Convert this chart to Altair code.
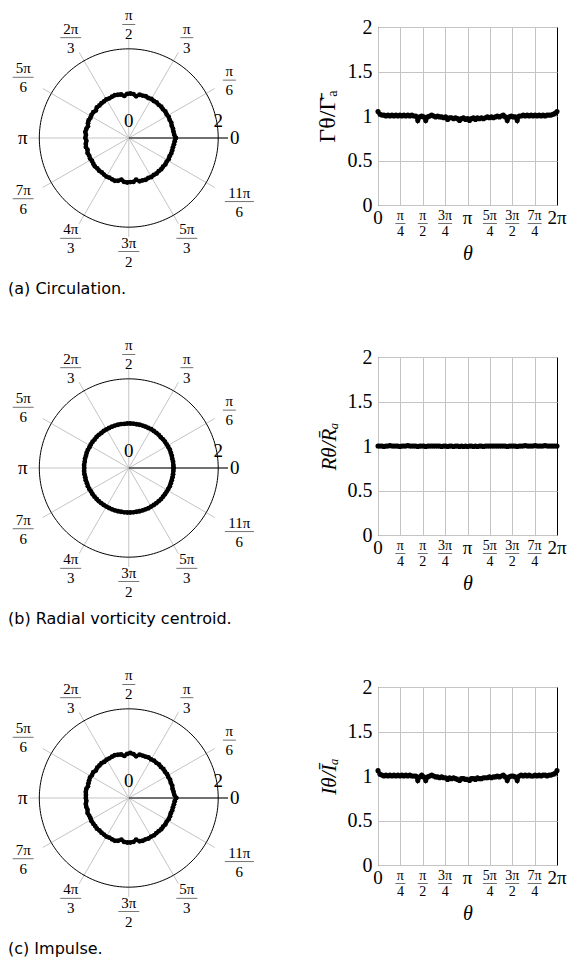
import altair as alt
import pandas as pd

# ---------------- data ----------------
deg = list(range(0, 361, 4))

gamma = [1.05, 1.02, 1.01, 1.01, 1.00, 1.01, 1.00, 1.01, 1.00, 1.01,
         1.00, 1.01, 1.00, 1.01, 1.00, 1.01, 1.00, 1.01, 1.00, 1.00,
         0.95, 0.99, 1.00, 0.99, 0.95, 0.99, 1.00, 1.01, 1.00, 0.99,
         1.00, 0.99, 0.99, 0.98, 0.99, 0.96, 0.98, 0.98, 0.97, 0.98,
         0.97, 0.95, 0.97, 0.98, 0.96, 0.97, 0.95, 0.97, 0.98, 0.96,
         0.98, 0.97, 0.98, 0.97, 0.98, 0.99, 0.98, 0.99, 0.98, 0.99,
         1.00, 0.99, 1.00, 1.01, 0.99, 0.95, 0.99, 1.00, 0.99, 0.99,
         0.95, 1.00, 1.00, 1.01, 1.00, 1.01, 1.00, 1.01, 1.00, 1.01,
         1.00, 1.01, 1.00, 1.01, 1.00, 1.01, 1.01, 1.01, 1.02, 1.03,
         1.05]

radial = [1.00, 1.00, 1.00, 0.995, 1.00, 1.00, 1.005, 1.00, 1.00, 1.00,
          1.00, 0.995, 1.00, 1.00, 1.00, 1.005, 1.00, 1.00, 1.00, 1.00,
          0.995, 1.00, 1.00, 1.00, 0.995, 1.00, 1.00, 1.00, 1.00, 1.00,
          1.00, 1.00, 0.995, 1.00, 1.00, 0.995, 1.00, 1.00, 0.995, 1.00,
          1.00, 0.995, 1.00, 0.995, 1.00, 0.995, 1.00, 1.00, 0.995, 1.00,
          0.995, 1.00, 1.00, 0.995, 1.00, 1.00, 1.00, 1.00, 1.00, 1.00,
          1.00, 1.00, 1.00, 1.00, 1.00, 0.995, 1.00, 1.00, 1.00, 1.00,
          0.995, 1.00, 1.00, 1.00, 1.005, 1.00, 1.00, 1.00, 1.00, 1.005,
          1.00, 1.00, 1.00, 1.00, 1.005, 1.00, 1.00, 1.00, 1.00, 1.00,
          1.00]

impulse = [1.06, 1.02, 1.01, 1.00, 1.01, 1.00, 1.01, 1.00, 1.01, 1.00,
           1.01, 1.00, 1.01, 1.00, 1.01, 1.00, 1.01, 1.00, 1.00, 1.00,
           0.95, 0.99, 1.01, 0.99, 0.95, 0.99, 1.00, 1.01, 1.00, 0.99,
           0.99, 0.98, 0.99, 0.98, 0.98, 0.96, 0.98, 0.97, 0.98, 0.97,
           0.96, 0.95, 0.97, 0.97, 0.96, 0.96, 0.95, 0.97, 0.97, 0.96,
           0.98, 0.97, 0.97, 0.98, 0.98, 0.98, 0.99, 0.98, 0.99, 0.99,
           1.00, 0.99, 1.00, 1.01, 0.99, 0.95, 0.99, 1.00, 1.00, 0.99,
           0.95, 1.00, 1.01, 1.00, 1.01, 1.00, 1.01, 1.00, 1.00, 1.01,
           1.00, 1.01, 1.00, 1.01, 1.01, 1.00, 1.01, 1.01, 1.02, 1.03,
           1.06]

polar_tick_deg = [0, 30, 60, 90, 120, 150, 180, 210, 240, 270, 300, 330]
polar_num = ["0", "π", "π", "π", "2π", "5π", "π", "7π", "4π", "3π", "5π", "11π"]
polar_den = ["", "6", "3", "2", "3", "6", "", "6", "3", "2", "3", "6"]

r_ticks = [0, 2]
r_labels = ["0", "2"]

cart_quarter = [0, 1, 2, 3, 4, 5, 6, 7, 8]
cart_num = ["0", "π", "π", "3π", "π", "5π", "3π", "7π", "2π"]
cart_den = ["", "4", "2", "4", "", "4", "2", "4", ""]

y_ticks = [0, 0.5, 1, 1.5, 2]

captions = ["(a) Circulation.", "(b) Radial vorticity centroid.", "(c) Impulse."]
y_titles = ["Γθ/Γ̄ₐ", "Rθ/R̄ₐ", "Iθ/Īₐ"]
series = [gamma, radial, impulse]

# ---------------- style ----------------
SERIF = "Liberation Serif"
SANS = "DejaVu Sans"
GRID = "#c4c4c4"

PW, PH = 246, 222
PXD = [-2.70, 2.80]
PYD = [-2.49, 2.49]
PX = PW / (PXD[1] - PXD[0])
CW, CH = 179, 178

xs_p = alt.Scale(domain=PXD, nice=False, zero=False)
ys_p = alt.Scale(domain=PYD, nice=False, zero=False)


def PXe(f):
    return alt.X(f, type="quantitative", scale=xs_p, axis=None)


def PYe(f):
    return alt.Y(f, type="quantitative", scale=ys_p, axis=None)


ticks_df = pd.DataFrame({"deg": polar_tick_deg, "num": polar_num, "den": polar_den})
rlab_df = pd.DataFrame({"r": r_ticks, "lab": r_labels})
cart_lab_df = pd.DataFrame({"q": cart_quarter, "num": cart_num, "den": cart_den})


def polar_panel(df):
    spokes = alt.Chart(ticks_df).transform_calculate(
        t="datum.deg*PI/180", x0="0", y0="0",
        x1="2.22*cos(datum.t)", y1="2.22*sin(datum.t)"
    ).mark_rule(color=GRID, strokeWidth=1).encode(
        x=PXe("x0:Q"), y=PYe("y0:Q"), x2="x1:Q", y2="y1:Q")

    raxis = alt.Chart(ticks_df).transform_filter("datum.deg == 0").transform_calculate(
        x0="0", y0="0", x1="2.22", y1="0"
    ).mark_rule(color="black", strokeWidth=1.2).encode(
        x=PXe("x0:Q"), y=PYe("y0:Q"), x2="x1:Q", y2="y1:Q")

    outer = alt.Chart(alt.sequence(0, 362, 2, as_="deg")).transform_calculate(
        x="2*cos(datum.deg*PI/180)", y="2*sin(datum.deg*PI/180)"
    ).mark_line(color="black", strokeWidth=1).encode(
        x=PXe("x:Q"), y=PYe("y:Q"), order="deg:Q")

    rlabs = alt.Chart(rlab_df).transform_calculate(y0="0").mark_text(
        font=SERIF, fontSize=19, dy=-17, baseline="middle", align="center", color="black"
    ).encode(x=PXe("r:Q"), y=PYe("y0:Q"), text="lab:N")

    pos = alt.Chart(ticks_df).transform_calculate(
        t="datum.deg*PI/180",
        hw="datum.den == '' ? 6 : 5*max(length(datum.num), length(datum.den)) + 9",
        hh="datum.den == '' ? 6 : 14",
        c="abs(cos(datum.t))", s="abs(sin(datum.t))",
    ).transform_calculate(
        d="min(datum.c > 0.001 ? datum.hw/datum.c : 1e9, datum.s > 0.001 ? datum.hh/datum.s : 1e9)"
    ).transform_calculate(
        lx=f"(100 + datum.d)/{PX}*cos(datum.t)",
        ly=f"(100 + datum.d)/{PX}*sin(datum.t)",
        bw="8*max(length(datum.num), length(datum.den)) + 5",
    )
    singles = pos.transform_filter("datum.den == ''").mark_text(
        font=SERIF, fontSize=19, baseline="middle", align="center", color="black"
    ).encode(x=PXe("lx:Q"), y=PYe("ly:Q"), text="num:N")
    fr = pos.transform_filter("datum.den != ''")
    nums = fr.mark_text(font=SERIF, fontSize=15, baseline="middle", align="center",
                        dy=-9, color="black").encode(x=PXe("lx:Q"), y=PYe("ly:Q"), text="num:N")
    dens = fr.mark_text(font=SERIF, fontSize=15, baseline="middle", align="center",
                        dy=10, color="black").encode(x=PXe("lx:Q"), y=PYe("ly:Q"), text="den:N")
    bars = fr.mark_tick(orient="horizontal", thickness=0.8, color="black").encode(
        x=PXe("lx:Q"), y=PYe("ly:Q"), size=alt.Size("bw:Q", scale=None, legend=None))

    ring = alt.Chart(df).transform_calculate(
        x="datum.v*cos(datum.deg*PI/180)", y="datum.v*sin(datum.deg*PI/180)"
    ).mark_line(color="black", strokeWidth=3.5,
                point=alt.OverlayMarkDef(filled=True, size=24, color="black")).encode(
        x=PXe("x:Q"), y=PYe("y:Q"), order="deg:Q")

    return alt.layer(spokes, outer, raxis, ring, rlabs, singles, nums, dens, bars).properties(
        width=PW, height=PH, view=alt.ViewBackground(stroke=None))


xs_c = alt.Scale(domain=[0, 6.283185307], nice=False, zero=False)
ys_c = alt.Scale(domain=[0, 2], nice=False, zero=False)
x_axis = alt.Axis(values=[k * 3.141592654 / 4 for k in cart_quarter], grid=True, gridColor=GRID,
                  labels=False, ticks=False, domain=False, title="θ", titleFont=SERIF,
                  titleFontSize=20, titleFontStyle="italic", titleFontWeight="normal",
                  titlePadding=38, titleColor="black")


def cart_panel(df, ytitle, tsize, tstyle):
    y_axis = alt.Axis(values=y_ticks, grid=True, gridColor=GRID, ticks=False, domain=False,
                      labelFont=SERIF, labelFontSize=20, labelPadding=6, labelColor="black",
                      labelExpr="'' + datum.value", labelFlush=False,
                      title=ytitle, titleFont=SERIF, titleFontSize=tsize, titleFontStyle=tstyle,
                      titleFontWeight="normal", titlePadding=8, titleColor="black")
    line = alt.Chart(df).transform_calculate(rad="datum.deg*PI/180").mark_line(
        color="black", strokeWidth=3.5,
        point=alt.OverlayMarkDef(filled=True, size=26, color="black")).encode(
        x=alt.X("rad:Q", scale=xs_c, axis=x_axis),
        y=alt.Y("v:Q", scale=ys_c, axis=y_axis))
    lab = alt.Chart(cart_lab_df).transform_calculate(
        rad="datum.q*PI/4",
        bw="4*max(length(datum.num), length(datum.den)) + 6")
    xe = alt.X("rad:Q", scale=xs_c, axis=x_axis)
    singles = lab.transform_filter("datum.den == ''").mark_text(
        font=SERIF, fontSize=19, baseline="middle", align="center", color="black"
    ).encode(x=xe, y=alt.value(CH + 13), text="num:N")
    fr = lab.transform_filter("datum.den != ''")
    nums = fr.mark_text(font=SERIF, fontSize=14, baseline="middle", align="center",
                        color="black").encode(x=xe, y=alt.value(CH + 11), text="num:N")
    dens = fr.mark_text(font=SERIF, fontSize=14, baseline="middle", align="center",
                        color="black").encode(x=xe, y=alt.value(CH + 27), text="den:N")
    bars = fr.mark_tick(orient="horizontal", thickness=0.8, color="black").encode(
        x=xe, y=alt.value(CH + 18.5), size=alt.Size("bw:Q", scale=None, legend=None))
    return alt.layer(line, singles, nums, dens, bars).properties(
        width=CW, height=CH, view=alt.ViewBackground(stroke="black", strokeWidth=1))


rows = []
for i in range(3):
    df = pd.DataFrame({"deg": deg, "v": series[i]})
    row = alt.hconcat(
        polar_panel(df),
        cart_panel(df, y_titles[i], 24 if i == 0 else 21, "normal" if i == 0 else "italic"),
        spacing=124, bounds="flush",
        title=alt.TitleParams(captions[i], orient="bottom", anchor="start", frame="group",
                              font=SANS, fontSize=16, fontWeight="normal", color="black",
                              offset=11))
    rows.append(row)

chart = alt.vconcat(*rows, spacing=41).properties(padding=0).configure_view(stroke=None)

chart.save("out.html", embed_options={"renderer": "svg", "actions": False})
